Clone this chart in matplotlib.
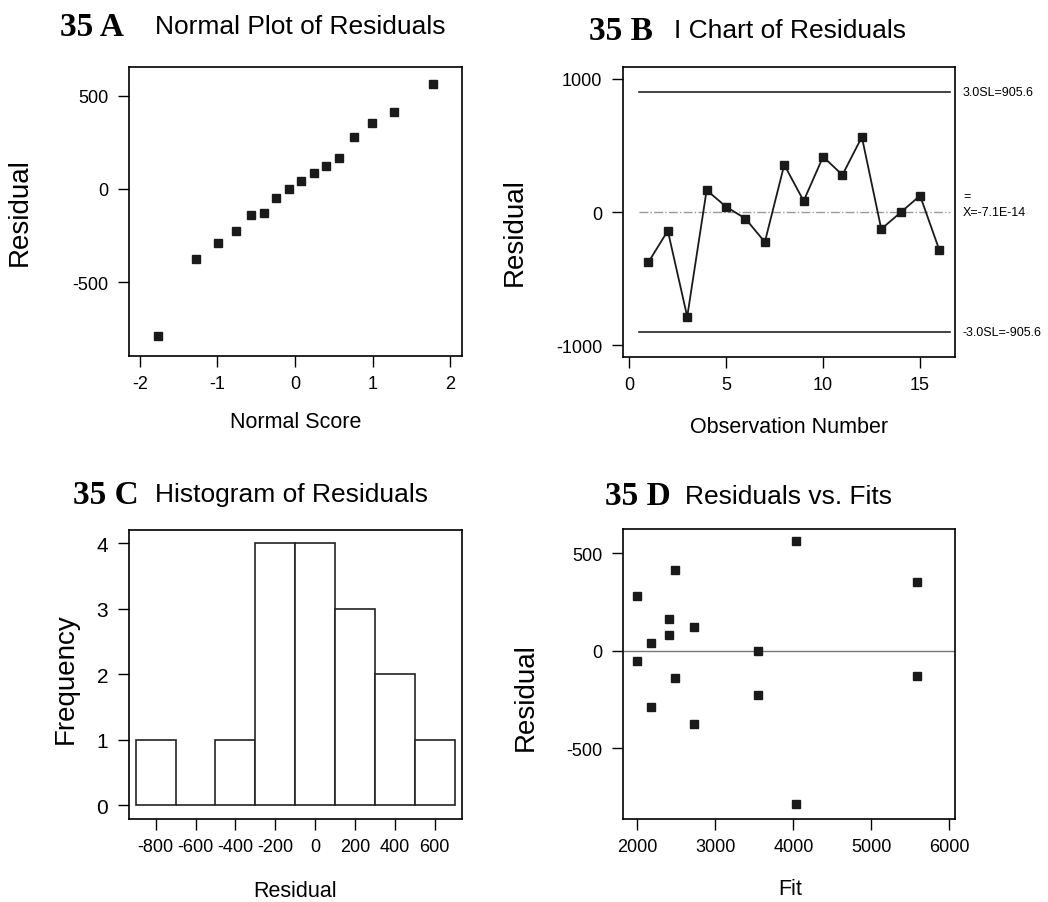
import numpy as np
import matplotlib
matplotlib.use('Agg')
import matplotlib.pyplot as plt

# --------------------------- data ---------------------------
obs = list(range(1, 17))
residuals = [-377, -141, -787, 164, 40, -50, -226, 355,
             83, 415, 279, 564, -128, -3, 123, -289]
fits = [2725, 2485, 4039, 2408, 2170, 2000, 3541, 5590,
        2408, 2485, 2000, 4039, 5590, 3541, 2725, 2170]

# normal scores for the sorted residuals (panel A)
normal_scores = [-1.77, -1.28, -0.99, -0.76, -0.57, -0.40, -0.24, -0.08,
                 0.08, 0.24, 0.40, 0.57, 0.76, 0.99, 1.28, 1.77]
sorted_resid = sorted(residuals)

# histogram (panel C)
bin_mids = [-800, -600, -400, -200, 0, 200, 400, 600]
bin_counts = [1, 0, 1, 4, 4, 3, 2, 1]
bin_width = 200

# I chart limits (panel B)
ucl = 905.6
lcl = -905.6
center = 0.0

# --------------------------- style ---------------------------
W, H = 1048, 903
SANS = ['Liberation Sans', 'DejaVu Sans']
SERIF = ['Liberation Serif', 'DejaVu Serif']
plt.rcParams['font.family'] = SANS
plt.rcParams['axes.unicode_minus'] = False
plt.rcParams['axes.linewidth'] = 1.2
plt.rcParams['xtick.major.size'] = 8
plt.rcParams['ytick.major.size'] = 8
plt.rcParams['xtick.major.width'] = 1.0
plt.rcParams['ytick.major.width'] = 1.0
plt.rcParams['xtick.major.pad'] = 6
plt.rcParams['ytick.major.pad'] = 7
plt.rcParams['xtick.labelsize'] = 13
plt.rcParams['ytick.labelsize'] = 13

mk = dict(marker='s', markersize=6, color='#1a1a1a', linestyle='none')


def px_axes(fig, left, top, right, bottom):
    return fig.add_axes([left / W, 1 - bottom / H, (right - left) / W, (bottom - top) / H])


def labels(ax, xlab, ylab, xpos, ypos, xsize=15.5, ysize=20):
    ax.set_xlabel(xlab, fontsize=xsize, va='center')
    ax.set_ylabel(ylab, fontsize=ysize, va='center')
    ax.xaxis.set_label_coords(*xpos)
    ax.yaxis.set_label_coords(*ypos)


def title(fig, x_num, x_txt, y, num, txt):
    fig.text(x_num / W, 1 - y / H, num, family=SERIF, fontweight='bold',
             fontsize=24, va='center', ha='left')
    fig.text(x_txt / W, 1 - y / H, txt, fontsize=19, va='center', ha='left')


fig = plt.figure(figsize=(W / 100, H / 100), dpi=100)

# --------------------------- 35 A: normal plot ---------------------------
axA = px_axes(fig, 129, 68, 462, 357)
axA.plot(normal_scores, sorted_resid, **mk)
axA.set_xlim(-2.14, 2.15)
axA.set_ylim(-897, 654)
axA.set_xticks([-2, -1, 0, 1, 2])
axA.set_yticks([-500, 0, 500])
labels(axA, 'Normal Score', 'Residual', (0.5, -0.225), (-0.327, 0.5))
title(fig, 60, 155, 27, '35 A', 'Normal Plot of Residuals')

# --------------------------- 35 B: I chart ---------------------------
axB = px_axes(fig, 623, 68, 955, 358)
axB.plot([0.52, 16.55], [ucl, ucl], color='#222222', lw=1.2)
axB.plot([0.52, 16.55], [lcl, lcl], color='#222222', lw=1.2)
axB.plot([0.52, 16.55], [center, center], color='#999999', lw=1.0, ls='-.')
axB.plot(obs, residuals, color='#1a1a1a', lw=1.3, marker='s', markersize=6)
axB.set_xlim(-0.31, 16.8)
axB.set_ylim(-1090, 1090)
axB.set_xticks([0, 5, 10, 15])
axB.set_yticks([-1000, 0, 1000])
labels(axB, 'Observation Number', 'Residual', (0.5, -0.238), (-0.325, 0.434))
lab_kw = dict(fontsize=9, va='center', ha='left',
              transform=axB.get_yaxis_transform())
axB.text(1.024, ucl, '3.0SL=%.1f' % ucl, **lab_kw)
axB.text(1.024, center, 'X=-7.1E-14', **lab_kw)
axB.text(1.024, center + 120, '=', **lab_kw)
axB.text(1.024, lcl, '-3.0SL=%.1f' % lcl, **lab_kw)
title(fig, 589, 674, 31, '35 B', 'I Chart of Residuals')

# --------------------------- 35 C: histogram ---------------------------
axC = px_axes(fig, 129, 531, 462, 820)
axC.bar(bin_mids, bin_counts, width=bin_width, facecolor='white',
        edgecolor='#222222', linewidth=1.2)
axC.set_xlim(-934, 737)
axC.set_ylim(-0.21, 4.2)
axC.set_xticks(bin_mids)
axC.set_yticks([0, 1, 2, 3, 4])
axC.tick_params(axis='y', labelsize=15)
labels(axC, 'Residual', 'Frequency', (0.5, -0.249), (-0.189, 0.488))
title(fig, 73, 155, 495, '35 C', 'Histogram of Residuals')

# --------------------------- 35 D: residuals vs fits ---------------------------
axD = px_axes(fig, 623, 530, 955, 820)
axD.axhline(0, color='#777777', lw=1.0)
axD.plot(fits, residuals, **mk)
axD.set_xlim(1816, 6073)
axD.set_ylim(-863, 625)
axD.set_xticks([2000, 3000, 4000, 5000, 6000])
axD.set_yticks([-500, 0, 500])
labels(axD, 'Fit', 'Residual', (0.503, -0.241), (-0.292, 0.424))
title(fig, 605, 685, 497, '35 D', 'Residuals vs. Fits')

plt.savefig('out.png', dpi=100)
